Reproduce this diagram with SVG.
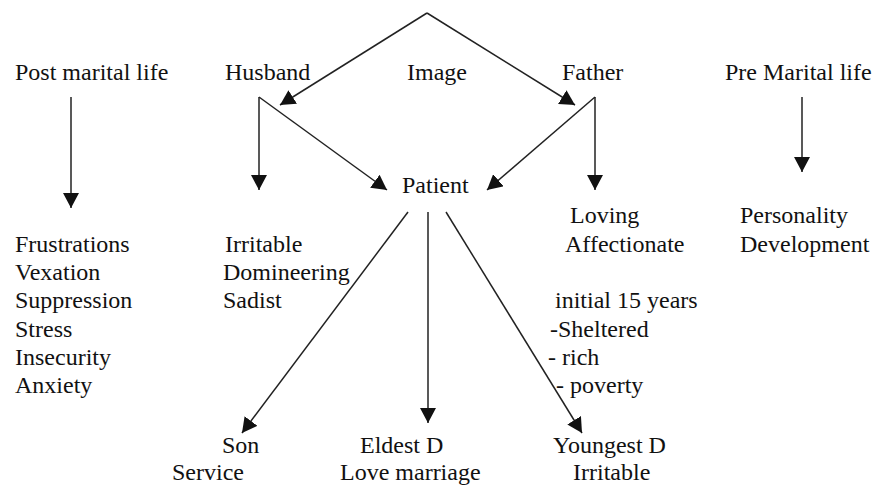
<svg xmlns="http://www.w3.org/2000/svg" width="878" height="485" viewBox="0 0 878 485">
<style>
text{font-size:24px;fill:#111}
.c{fill:none;stroke:#222;stroke-width:1.5}
</style>
<defs>
<marker id="ah" markerUnits="userSpaceOnUse" viewBox="0 0 15 16" markerWidth="15" markerHeight="16" refX="15" refY="8" orient="auto">
<path d="M0,0 L15,8 L0,16 z" fill="#111"/>
</marker>
</defs>
<rect width="878" height="485" fill="#fff"/>
<g id="connectors">
<path class="c" d="M427,13 L280,105" marker-end="url(#ah)"/>
<path class="c" d="M427,13 L575,105" marker-end="url(#ah)"/>
<path class="c" d="M71,97 L71,208" marker-end="url(#ah)"/>
<path class="c" d="M259,97 L259,190" marker-end="url(#ah)"/>
<path class="c" d="M259,97 L387,190" marker-end="url(#ah)"/>
<path class="c" d="M595,97 L487,190" marker-end="url(#ah)"/>
<path class="c" d="M595,97 L595,190" marker-end="url(#ah)"/>
<path class="c" d="M802,97 L802,172" marker-end="url(#ah)"/>
<path class="c" d="M408,212 L242,433" marker-end="url(#ah)"/>
<path class="c" d="M428,212 L428,423" marker-end="url(#ah)"/>
<path class="c" d="M446,212 L582,433" marker-end="url(#ah)"/>
</g>
<g font-family="Liberation Serif, Tinos, Times New Roman, Times, DejaVu Serif, Noto Serif, serif">
<g id="post-marital"><text x="15" y="80">Post marital life</text></g>
<g id="husband"><text x="225" y="80">Husband</text></g>
<g id="image"><text x="407" y="80">Image</text></g>
<g id="father"><text x="562" y="80">Father</text></g>
<g id="pre-marital"><text x="725" y="80">Pre Marital life</text></g>
<g id="patient"><text x="402" y="193">Patient</text></g>
<g id="post-effects">
<text x="15" y="252">Frustrations</text>
<text x="15" y="280">Vexation</text>
<text x="15" y="308">Suppression</text>
<text x="15" y="337">Stress</text>
<text x="15" y="365">Insecurity</text>
<text x="15" y="393">Anxiety</text>
</g>
<g id="husband-traits">
<text x="225" y="252">Irritable</text>
<text x="223" y="280">Domineering</text>
<text x="223" y="308">Sadist</text>
</g>
<g id="father-traits">
<text x="570" y="223">Loving</text>
<text x="565" y="252">Affectionate</text>
</g>
<g id="early-years">
<text x="555" y="308">initial 15 years</text>
<text x="550" y="337">-Sheltered</text>
<text x="548" y="365">- rich</text>
<text x="556" y="393">- poverty</text>
</g>
<g id="personality">
<text x="740" y="223">Personality</text>
<text x="740" y="252">Development</text>
</g>
<g id="son">
<text x="222" y="453">Son</text>
<text x="172" y="480">Service</text>
</g>
<g id="eldest">
<text x="360" y="453">Eldest D</text>
<text x="340" y="480">Love marriage</text>
</g>
<g id="youngest">
<text x="553" y="453">Youngest D</text>
<text x="573" y="480">Irritable</text>
</g>
</g>
</svg>
